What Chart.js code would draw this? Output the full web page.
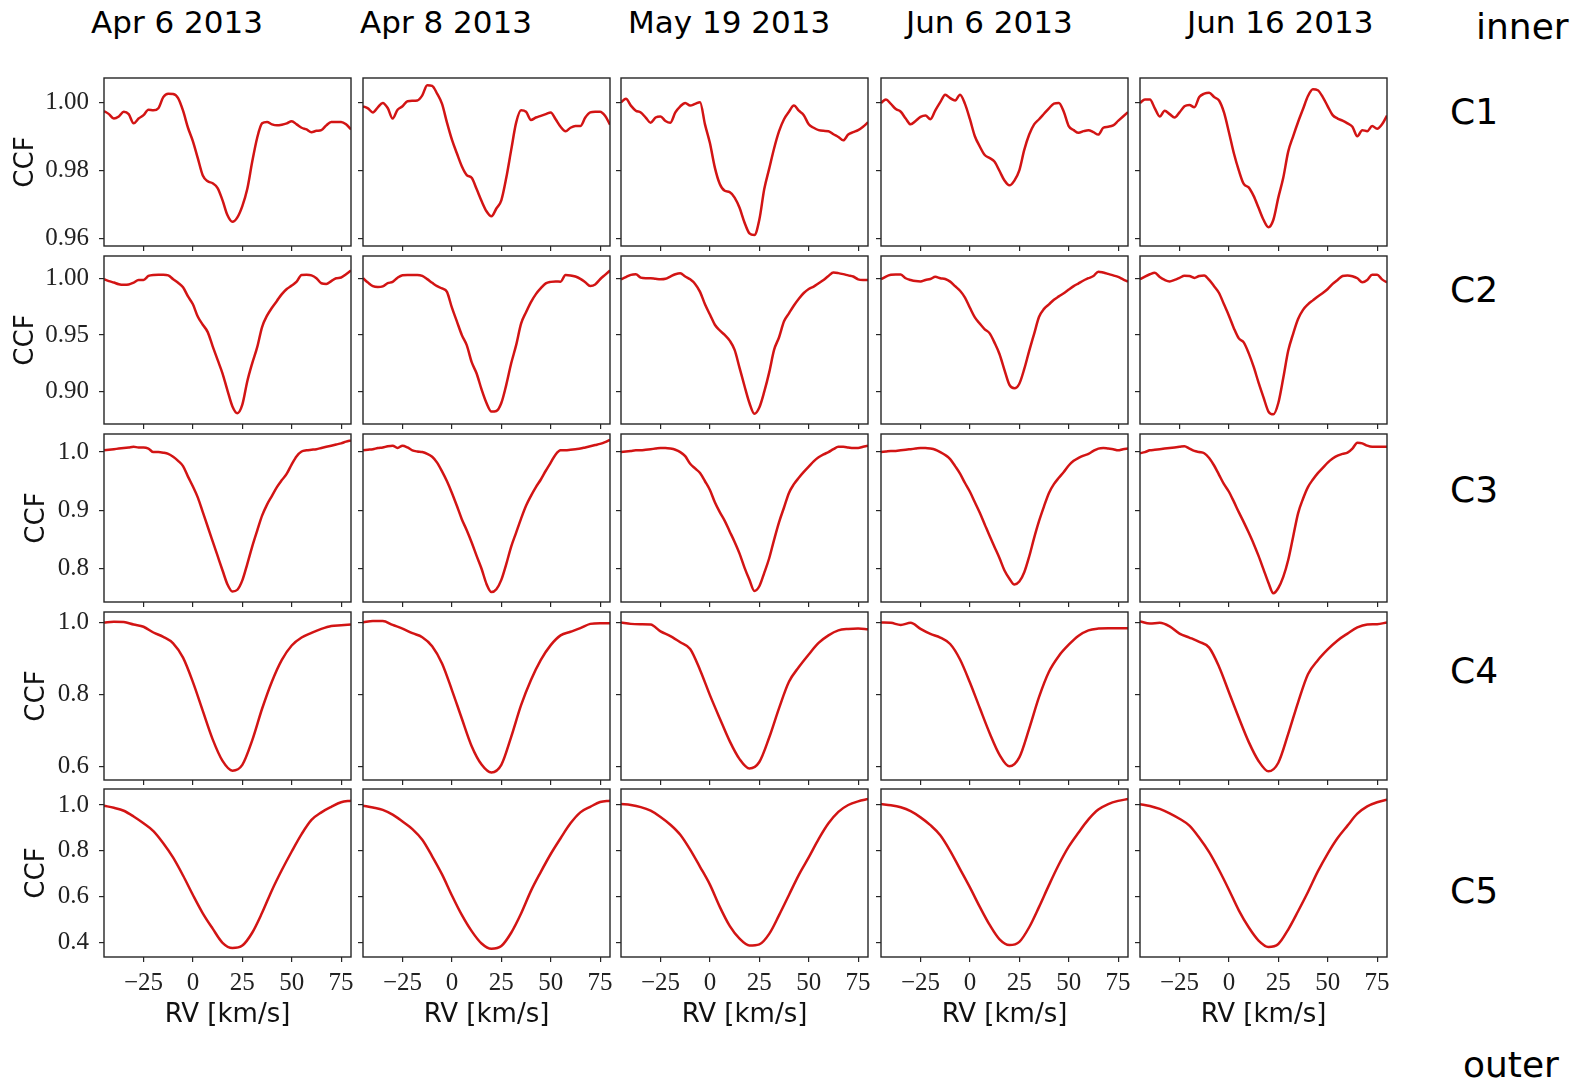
<!DOCTYPE html>
<html><head><meta charset="utf-8">
<script src="https://cdn.jsdelivr.net/npm/chart.js@4.4.1/dist/chart.umd.min.js"></script>
<style>
html,body{margin:0;padding:0;background:#fff;}
#wrap{position:relative;width:1585px;height:1084px;overflow:hidden;background:#fff;}
#wrap canvas{position:absolute;}
.lbl{position:absolute;font-family:'DejaVu Sans',sans-serif;line-height:1;white-space:nowrap;color:#000;}
</style></head><body><div id="wrap"></div>
<script>
// ---------- categories / labels ----------
const dates = ['Apr 6 2013','Apr 8 2013','May 19 2013','Jun 6 2013','Jun 16 2013'];
const components = ['C1','C2','C3','C4','C5'];
const sideTop = 'inner';
const sideBottom = 'outer';

// ---------- RV grids (km/s) ----------
const rvFine = [-45,-42.5,-40,-37.5,-35,-32.5,-30,-27.5,-25,-22.5,-20,-17.5,-15,-12.5,-10,-7.5,-5,-2.5,0,2.5,5,7.5,10,12.5,15,17.5,20,22.5,25,27.5,30,32.5,35,37.5,40,42.5,45,47.5,50,52.5,55,57.5,60,62.5,65,67.5,70,72.5,75,77.5,80];
const rvCoarse = [-45,-40,-35,-30,-25,-20,-15,-10,-5,0,5,10,15,20,25,30,35,40,45,50,55,60,65,70,75,80];

// ---------- tick labels ----------
const rvTicks = [-25,0,25,50,75];
const ticksC1 = [0.96,0.98,1.00];
const ticksC2 = [0.90,0.95,1.00];
const ticksC3 = [0.8,0.9,1.0];
const ticksC4 = [0.6,0.8,1.0];
const ticksC5 = [0.4,0.6,0.8,1.0];
const rowYMin = [0.9578,0.8715,0.743,0.562,0.336];
const rowYMax = [1.0071,1.0196,1.031,1.029,1.070];

// ---------- C1 (rvFine) ----------
const c1_apr6 = [0.9974,0.9965,0.9952,0.9958,0.9972,0.9965,0.9938,0.9952,0.9962,0.9978,0.9976,0.9982,1.0015,1.0025,1.0024,1.0012,0.9975,0.9925,0.9885,0.9835,0.9785,0.9768,0.9762,0.9748,0.9712,0.9668,0.9649,0.9662,0.9695,0.9745,0.9825,0.9895,0.9938,0.9942,0.9935,0.9932,0.9934,0.9938,0.9944,0.9935,0.9925,0.9920,0.9912,0.9916,0.9918,0.9932,0.9942,0.9942,0.9942,0.9935,0.9920];
const c1_apr8 = [0.9988,0.9982,0.9970,0.9985,0.9998,0.9983,0.9952,0.9978,0.9988,1.0003,1.0004,1.0005,1.0020,1.0050,1.0048,1.0025,0.9995,0.9940,0.9890,0.9850,0.9812,0.9786,0.9778,0.9745,0.9710,0.9680,0.9665,0.9688,0.9712,0.9778,0.9860,0.9940,0.9976,0.9972,0.9948,0.9955,0.9960,0.9965,0.9970,0.9950,0.9928,0.9915,0.9925,0.9930,0.9930,0.9955,0.9970,0.9972,0.9972,0.9960,0.9934];
const c1_may19 = [1.0000,1.0010,0.9990,0.9975,0.9970,0.9955,0.9940,0.9955,0.9958,0.9945,0.9940,0.9970,0.9988,0.9998,0.9990,0.9995,1.0000,0.9935,0.9880,0.9808,0.9760,0.9740,0.9736,0.9720,0.9690,0.9647,0.9615,0.9610,0.9655,0.9745,0.9805,0.9865,0.9915,0.9950,0.9972,0.9990,0.9975,0.9962,0.9935,0.9925,0.9918,0.9916,0.9915,0.9906,0.9898,0.9888,0.9905,0.9912,0.9918,0.9928,0.9941];
const c1_jun6 = [0.9998,1.0008,0.9995,0.9980,0.9972,0.9952,0.9935,0.9945,0.9957,0.9961,0.9950,0.9976,1.0000,1.0022,1.0012,1.0005,1.0022,0.9995,0.9950,0.9900,0.9870,0.9845,0.9836,0.9825,0.9798,0.9770,0.9756,0.9770,0.9800,0.9860,0.9905,0.9935,0.9950,0.9966,0.9982,0.9996,0.9998,0.9972,0.9930,0.9918,0.9910,0.9915,0.9918,0.9912,0.9905,0.9925,0.9928,0.9932,0.9945,0.9958,0.9971];
const c1_jun16 = [0.9998,1.0008,1.0008,0.9982,0.9958,0.9975,0.9965,0.9955,0.9970,0.9988,0.9992,0.9985,1.0015,1.0025,1.0028,1.0015,1.0005,0.9970,0.9912,0.9850,0.9800,0.9760,0.9750,0.9725,0.9690,0.9655,0.9633,0.9655,0.9720,0.9778,0.9855,0.9900,0.9942,0.9980,1.0018,1.0038,1.0035,1.0015,0.9988,0.9962,0.9952,0.9946,0.9938,0.9928,0.9900,0.9918,0.9915,0.9930,0.9922,0.9935,0.9961];

// ---------- C2 (rvFine) ----------
const c2_apr6 = [0.9991,0.9975,0.9962,0.9947,0.9942,0.9945,0.9962,0.9985,0.9985,1.0020,1.0029,1.0030,1.0030,1.0025,0.9992,0.9960,0.9920,0.9840,0.9770,0.9660,0.9590,0.9525,0.9400,0.9280,0.9160,0.9010,0.8870,0.8810,0.8885,0.9090,0.9250,0.9390,0.9570,0.9670,0.9740,0.9800,0.9860,0.9905,0.9935,0.9970,1.0029,1.0030,1.0025,1.0000,0.9956,0.9950,0.9975,1.0000,1.0006,1.0035,1.0068];
const c2_apr8 = [1.0000,0.9962,0.9930,0.9922,0.9928,0.9956,0.9968,1.0005,1.0027,1.0029,1.0029,1.0029,1.0020,0.9992,0.9960,0.9930,0.9910,0.9880,0.9740,0.9620,0.9500,0.9410,0.9260,0.9160,0.9020,0.8900,0.8825,0.8830,0.8900,0.9060,0.9250,0.9410,0.9600,0.9700,0.9790,0.9860,0.9912,0.9955,0.9968,0.9971,0.9970,1.0029,1.0025,1.0015,0.9995,0.9965,0.9932,0.9945,0.9991,1.0030,1.0068];
const c2_may19 = [0.9991,1.0010,1.0030,1.0035,1.0005,1.0000,1.0000,0.9995,0.9991,0.9995,1.0015,1.0035,1.0044,1.0015,0.9990,0.9950,0.9880,0.9770,0.9680,0.9590,0.9540,0.9500,0.9450,0.9368,0.9210,0.9050,0.8900,0.8805,0.8860,0.9000,0.9170,0.9370,0.9480,0.9620,0.9690,0.9760,0.9820,0.9870,0.9905,0.9926,0.9955,0.9985,1.0020,1.0050,1.0045,1.0036,1.0025,1.0015,0.9990,0.9985,0.9985];
const c2_jun6 = [0.9991,1.0015,1.0030,1.0033,1.0032,1.0000,0.9985,0.9975,0.9972,0.9985,0.9993,1.0012,1.0000,0.9993,0.9970,0.9930,0.9890,0.9830,0.9740,0.9655,0.9600,0.9550,0.9514,0.9430,0.9330,0.9190,0.9060,0.9030,0.9070,0.9200,0.9360,0.9510,0.9660,0.9730,0.9770,0.9810,0.9840,0.9868,0.9900,0.9930,0.9955,0.9980,1.0000,1.0020,1.0058,1.0050,1.0038,1.0025,1.0012,0.9990,0.9970];
const c2_jun16 = [0.9991,1.0015,1.0035,1.0048,1.0010,0.9985,0.9972,0.9985,1.0003,1.0022,1.0020,1.0003,1.0020,1.0025,0.9985,0.9930,0.9870,0.9770,0.9670,0.9560,0.9470,0.9435,0.9340,0.9220,0.9080,0.8950,0.8825,0.8800,0.8900,0.9120,0.9360,0.9510,0.9640,0.9721,0.9770,0.9805,0.9840,0.9870,0.9905,0.9950,0.9985,1.0020,1.0025,1.0018,1.0000,0.9965,0.9985,1.0030,1.0030,0.9990,0.9962];

// ---------- C3 (rvFine) ----------
const c3_apr6 = [1.003,1.004,1.005,1.006,1.007,1.008,1.009,1.008,1.008,1.006,1.000,1.000,0.999,0.997,0.992,0.985,0.976,0.958,0.941,0.922,0.897,0.872,0.847,0.822,0.797,0.773,0.761,0.764,0.780,0.808,0.838,0.865,0.891,0.910,0.925,0.940,0.952,0.963,0.979,0.993,1.001,1.003,1.004,1.005,1.007,1.009,1.011,1.013,1.015,1.018,1.020];
const c3_apr8 = [1.003,1.004,1.005,1.007,1.008,1.010,1.011,1.007,1.011,1.008,1.003,1.001,1.000,0.997,0.992,0.982,0.967,0.950,0.930,0.908,0.885,0.866,0.845,0.822,0.800,0.774,0.760,0.765,0.781,0.808,0.838,0.862,0.886,0.908,0.925,0.940,0.953,0.968,0.982,0.996,1.003,1.003,1.004,1.005,1.006,1.008,1.010,1.012,1.014,1.017,1.021];
const c3_may19 = [1.000,1.001,1.002,1.003,1.003,1.004,1.005,1.006,1.007,1.007,1.006,1.004,1.000,0.993,0.980,0.972,0.964,0.950,0.935,0.914,0.897,0.882,0.864,0.846,0.826,0.802,0.781,0.762,0.770,0.793,0.818,0.850,0.880,0.905,0.930,0.945,0.956,0.966,0.975,0.984,0.991,0.996,1.000,1.005,1.009,1.009,1.008,1.007,1.007,1.009,1.011];
const c3_jun6 = [1.000,1.001,1.002,1.002,1.003,1.004,1.005,1.006,1.007,1.007,1.006,1.004,1.000,0.995,0.988,0.976,0.963,0.947,0.932,0.914,0.896,0.876,0.856,0.837,0.818,0.797,0.783,0.773,0.778,0.794,0.821,0.853,0.882,0.907,0.930,0.945,0.956,0.966,0.977,0.985,0.990,0.994,0.997,1.002,1.006,1.007,1.006,1.005,1.003,1.005,1.006];
const c3_jun16 = [0.998,1.000,1.003,1.004,1.005,1.006,1.007,1.008,1.009,1.010,1.006,1.002,1.000,0.998,0.990,0.977,0.961,0.945,0.932,0.915,0.897,0.880,0.862,0.843,0.822,0.799,0.776,0.758,0.767,0.786,0.815,0.855,0.895,0.920,0.940,0.953,0.964,0.973,0.982,0.989,0.994,0.997,0.999,1.006,1.016,1.015,1.011,1.009,1.009,1.009,1.009];

// ---------- C4 (rvCoarse) ----------
const c4_apr6 = [1.000,1.002,1.001,0.994,0.988,0.972,0.960,0.942,0.902,0.834,0.754,0.675,0.615,0.588,0.604,0.672,0.760,0.836,0.896,0.936,0.958,0.971,0.982,0.990,0.992,0.994];
const c4_apr8 = [1.000,1.004,1.004,0.993,0.983,0.970,0.959,0.934,0.886,0.812,0.733,0.656,0.605,0.583,0.604,0.682,0.770,0.840,0.896,0.937,0.964,0.974,0.984,0.996,0.998,0.998];
const c4_may19 = [1.000,0.996,0.995,0.994,0.975,0.962,0.945,0.926,0.868,0.798,0.733,0.670,0.620,0.594,0.612,0.680,0.762,0.835,0.876,0.911,0.943,0.964,0.978,0.982,0.983,0.981];
const c4_jun6 = [1.000,0.999,0.993,0.999,0.982,0.968,0.958,0.940,0.897,0.833,0.762,0.692,0.632,0.600,0.625,0.705,0.793,0.863,0.907,0.938,0.963,0.978,0.983,0.984,0.984,0.984];
const c4_jun16 = [1.003,0.997,0.999,0.989,0.969,0.958,0.946,0.930,0.877,0.806,0.735,0.668,0.615,0.586,0.610,0.690,0.778,0.856,0.895,0.925,0.950,0.969,0.986,0.994,0.995,1.000];

// ---------- C5 (rvCoarse) ----------
const c5_apr6 = [0.997,0.988,0.975,0.950,0.920,0.886,0.833,0.770,0.692,0.607,0.527,0.460,0.398,0.375,0.386,0.442,0.529,0.628,0.716,0.797,0.873,0.935,0.968,0.992,1.012,1.019];
const c5_apr8 = [0.997,0.989,0.979,0.958,0.928,0.895,0.848,0.776,0.697,0.605,0.520,0.449,0.395,0.372,0.384,0.442,0.526,0.625,0.708,0.786,0.855,0.920,0.968,0.992,1.013,1.019];
const c5_may19 = [1.004,1.000,0.991,0.975,0.948,0.914,0.870,0.805,0.730,0.652,0.555,0.472,0.416,0.386,0.391,0.437,0.519,0.607,0.695,0.771,0.851,0.920,0.970,1.000,1.016,1.026];
const c5_jun6 = [1.004,0.999,0.990,0.973,0.946,0.912,0.868,0.800,0.720,0.640,0.555,0.476,0.413,0.388,0.402,0.466,0.555,0.650,0.740,0.818,0.880,0.937,0.980,1.004,1.018,1.026];
const c5_jun16 = [1.004,0.996,0.983,0.964,0.940,0.910,0.857,0.794,0.716,0.630,0.540,0.466,0.408,0.380,0.393,0.456,0.536,0.620,0.710,0.788,0.856,0.910,0.962,0.994,1.012,1.023];

// ---------- assembly ----------
const rows = [
  {rv: rvFine,   series: [c1_apr6,c1_apr8,c1_may19,c1_jun6,c1_jun16], ticks: ticksC1, dec: 2},
  {rv: rvFine,   series: [c2_apr6,c2_apr8,c2_may19,c2_jun6,c2_jun16], ticks: ticksC2, dec: 2},
  {rv: rvFine,   series: [c3_apr6,c3_apr8,c3_may19,c3_jun6,c3_jun16], ticks: ticksC3, dec: 1},
  {rv: rvCoarse, series: [c4_apr6,c4_apr8,c4_may19,c4_jun6,c4_jun16], ticks: ticksC4, dec: 1},
  {rv: rvCoarse, series: [c5_apr6,c5_apr8,c5_may19,c5_jun6,c5_jun16], ticks: ticksC5, dec: 1}
];

const RED = 'rgb(210,20,20)';
const FRAME = '#262626';
const colLeft = [104,363,621,881,1140], PW = 247;
const rowTop = [78,256,434,612,789], PH = 168;
const wrap = document.getElementById('wrap');

const fmtRV = v => v < 0 ? '\u2212' + Math.abs(v) : String(v);
const zeroPad = s => { s.paddingTop = 0; s.paddingBottom = 0; s.paddingLeft = 0; s.paddingRight = 0; };

const framePlugin = {
  id: 'frame',
  afterDraw(chart) {
    const {ctx, chartArea: a} = chart;
    ctx.save();
    ctx.strokeStyle = FRAME;
    ctx.lineWidth = 1.4;
    ctx.strokeRect(a.left, a.top, a.right - a.left, a.bottom - a.top);
    ctx.restore();
  }
};

rows.forEach((row, r) => {
  row.series.forEach((ys, c) => {
    const L = c === 0 ? 104 : 12, R = 6, T = 6, B = r === 4 ? 90 : 12;
    const w = L + PW + R, h = T + PH + B;
    const cv = document.createElement('canvas');
    cv.width = w; cv.height = h;
    cv.style.left = (colLeft[c] - L) + 'px';
    cv.style.top = (rowTop[r] - T) + 'px';
    cv.style.width = w + 'px'; cv.style.height = h + 'px';
    wrap.appendChild(cv);
    new Chart(cv, {
      type: 'line',
      data: { datasets: [{
        data: row.rv.map((x, i) => ({x: x, y: ys[i]})),
        borderColor: RED, borderWidth: 2.5, pointRadius: 0,
        cubicInterpolationMode: 'monotone', fill: false
      }]},
      options: {
        responsive: false, animation: false, devicePixelRatio: 1, events: [],
        layout: { padding: { top: T, right: R, left: 0, bottom: 0 } },
        plugins: { legend: { display: false }, tooltip: { enabled: false } },
        scales: {
          x: {
            type: 'linear', position: 'bottom', min: -45, max: 80,
            afterBuildTicks: s => { s.ticks = rvTicks.map(v => ({value: v})); },
            afterFit: s => { s.height = B; zeroPad(s); },
            grid: { drawOnChartArea: false, drawTicks: true, tickLength: 5, color: FRAME, lineWidth: 1.2 },
            border: { display: false },
            ticks: { display: r === 4, autoSkip: false, maxRotation: 0, minRotation: 0, padding: 6, color: '#222',
                     font: { family: 'Liberation Serif', size: 25 }, callback: v => fmtRV(v) },
            title: { display: r === 4, text: 'RV [km/s]', color: '#111',
                     font: { family: 'DejaVu Sans', size: 26 }, padding: { top: 0, bottom: 16 } }
          },
          y: {
            type: 'linear', position: 'left', min: rowYMin[r], max: rowYMax[r],
            afterBuildTicks: s => { s.ticks = row.ticks.map(v => ({value: v})); },
            afterFit: s => { s.width = L; zeroPad(s); },
            grid: { drawOnChartArea: false, drawTicks: true, tickLength: 5, color: FRAME, lineWidth: 1.2 },
            border: { display: false },
            ticks: { display: c === 0, padding: 10, color: '#222',
                     font: { family: 'Liberation Serif', size: 25 }, callback: v => Number(v).toFixed(row.dec) },
            title: { display: c === 0, text: 'CCF', color: '#111',
                     font: { family: 'DejaVu Sans', size: 26 }, padding: { top: r < 2 ? 11 : 22, bottom: 0 } }
          }
        }
      },
      plugins: [framePlugin]
    });
  });
});

// ---------- text annotations ----------
function addLabel(text, left, top, size) {
  const d = document.createElement('div');
  d.className = 'lbl';
  d.textContent = text;
  d.style.left = left + 'px';
  d.style.top = top + 'px';
  d.style.fontSize = size + 'px';
  wrap.appendChild(d);
}
const titleLeft = [91,360,628,906,1187];
dates.forEach((t, i) => addLabel(t, titleLeft[i], 7, 31));
addLabel(sideTop, 1476, 8.5, 36);
addLabel(sideBottom, 1463, 1047, 36);
const compTop = [94,272,472,653,873];
components.forEach((t, i) => addLabel(t, 1450, compTop[i], 36));
</script>
</body></html>
